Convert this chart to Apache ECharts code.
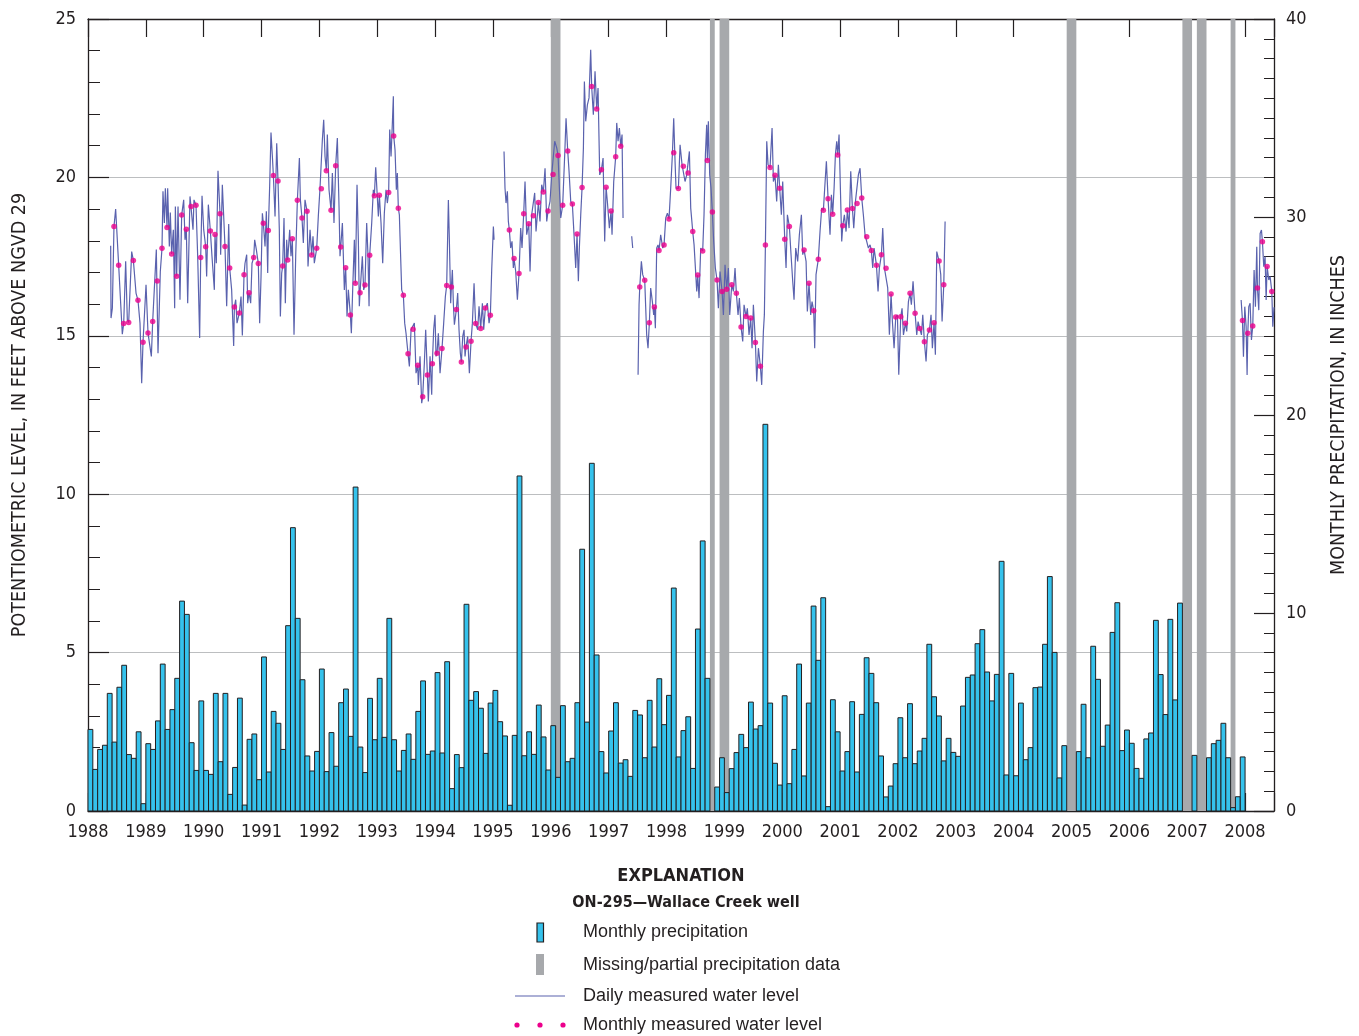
<!DOCTYPE html>
<html>
<head>
<meta charset="utf-8">
<title>ON-295 Wallace Creek well</title>
<script src="https://cdn.jsdelivr.net/npm/echarts@6/dist/echarts.min.js"></script>
<style>
  html, body { margin: 0; padding: 0; background: #fff; }
  #chart { width: 1359px; height: 1036px; }
</style>
</head>
<body>
<div id="chart"></div>
<script>
'use strict';

// monthly precipitation in inches, Jan 1988 .. Dec 2007 (null = no bar drawn)
const precipitation = [
  4.12, 2.10, 3.11, 3.32, 5.94, 3.48, 6.25, 7.36, 2.85, 2.66, 4.00, 0.37,
  3.40, 3.11, 4.55, 7.42, 4.12, 5.12, 6.70, 10.60, 9.93, 3.45, 2.05, 5.56,
  2.05, 1.85, 5.94, 2.49, 5.94, 0.84, 2.20, 5.70, 0.30, 3.62, 3.89, 1.58,
  7.78, 1.97, 5.03, 4.43, 3.11, 9.36, 14.31, 9.73, 6.63, 2.78, 2.02, 3.01,
  7.17, 1.99, 3.96, 2.26, 5.47, 6.16, 3.77, 16.36, 3.23, 1.94, 5.69, 3.60,
  6.70, 3.72, 9.73, 3.60, 2.02, 3.06, 3.89, 2.61, 5.03, 6.57, 2.86, 3.03,
  6.99, 2.93, 7.54, 1.13, 2.85, 2.19, 10.44, 5.59, 6.03, 5.19, 2.91, 5.45,
  6.09, 4.51, 3.79, 0.29, 3.82, 16.92, 2.79, 4.00, 2.86, 5.35, 3.74, 2.07,
  4.31, 1.70, 5.32, 2.49, 2.66, 5.47, 13.22, 4.49, 17.56, 7.88, 3.00, 1.92,
  4.04, 5.47, 2.42, 2.59, 1.75, 5.08, 4.85, 2.69, 5.59, 3.23, 6.68, 4.36,
  5.84, 11.26, 2.73, 4.06, 4.76, 2.15, 9.19, 13.64, 6.70, null, 1.21, 2.69,
  0.93, 2.14, 2.95, 3.87, 3.20, 5.50, 4.14, 4.31, 19.53, 5.45, 2.41, 1.31,
  5.82, 1.38, 3.11, 7.42, 1.77, 5.45, 10.35, 7.61, 10.77, 0.22, 5.62, 4.00,
  2.02, 3.00, 5.52, 1.97, 4.88, 7.74, 6.95, 5.47, 2.78, 0.71, 1.26, 2.39,
  4.71, 2.69, 5.42, 2.39, 3.03, 3.67, 8.42, 5.77, 4.80, 2.53, 3.67, 2.96,
  2.76, 5.30, 6.75, 6.87, 8.45, 9.16, 7.02, 5.56, 6.90, 12.61, 1.82, 6.95,
  1.78, 5.45, 2.59, 3.20, 6.23, 6.26, 8.42, 11.84, 8.01, 1.67, 3.30, null,
  null, 3.00, 5.39, 2.69, 8.32, 6.65, 3.27, 4.34, 9.02, 10.52, 3.05, 4.09,
  3.42, 2.15, 1.65, 3.64, 3.94, 9.63, 6.89, 4.87, 9.68, 5.61, 10.50, null,
  null, 2.81, null, null, 2.69, 3.40, 3.57, 4.43, 2.69, 0.17, 0.72, 2.73
];
const precipStartYear = 1988;

// missing / partial precipitation record: [first month, number of months]
const missingPrecip = [
  ['1996-01', 2], ['1998-10', 1], ['1998-12', 2], ['2004-12', 2],
  ['2006-12', 2], ['2007-03', 2], ['2007-10', 1]
];

// monthly measured water level [decimal year, feet above NGVD 29]
const monthlyLevel = [
  [1988.449, 18.45], [1988.530, 17.23], [1988.617, 15.39], [1988.703, 15.42], [1988.784, 17.38],
  [1988.864, 16.12], [1988.951, 14.80], [1989.037, 15.09], [1989.118, 15.45], [1989.198, 16.73],
  [1989.279, 17.76], [1989.366, 18.42], [1989.446, 17.58], [1989.533, 16.88], [1989.619, 18.81],
  [1989.700, 18.36], [1989.780, 19.08], [1989.867, 19.12], [1989.948, 17.47], [1990.034, 17.81],
  [1990.115, 18.31], [1990.195, 18.20], [1990.282, 18.85], [1990.368, 17.82], [1990.449, 17.14],
  [1990.530, 15.91], [1990.616, 15.72], [1990.697, 16.93], [1990.783, 16.36], [1990.864, 17.47],
  [1990.944, 17.28], [1991.031, 18.55], [1991.117, 18.32], [1991.204, 20.06], [1991.284, 19.89],
  [1991.365, 17.20], [1991.452, 17.39], [1991.532, 18.06], [1991.619, 19.28], [1991.699, 18.72],
  [1991.786, 18.93], [1991.866, 17.55], [1991.953, 17.76], [1992.033, 19.64], [1992.120, 20.21],
  [1992.201, 18.96], [1992.281, 20.37], [1992.368, 17.80], [1992.454, 17.15], [1992.535, 15.66],
  [1992.621, 16.66], [1992.702, 16.36], [1992.788, 16.60], [1992.869, 17.54], [1992.950, 19.42],
  [1993.036, 19.44], [1993.197, 19.52], [1993.284, 21.31], [1993.364, 19.03], [1993.451, 16.28],
  [1993.532, 14.43], [1993.618, 15.21], [1993.699, 14.07], [1993.785, 13.08], [1993.866, 13.76],
  [1993.952, 14.12], [1994.033, 14.45], [1994.119, 14.60], [1994.200, 16.59], [1994.281, 16.54],
  [1994.367, 15.83], [1994.454, 14.17], [1994.534, 14.65], [1994.621, 14.83], [1994.701, 15.39],
  [1994.788, 15.23], [1994.868, 15.88], [1994.955, 15.65],
  [1995.283, 18.34], [1995.364, 17.44], [1995.450, 16.97], [1995.531, 18.85], [1995.618, 18.54],
  [1995.698, 18.79], [1995.785, 19.21], [1995.871, 19.54], [1995.952, 18.94], [1996.038, 20.09],
  [1996.125, 20.69], [1996.205, 19.12], [1996.292, 20.83], [1996.372, 19.16], [1996.453, 18.21],
  [1996.540, 19.68], [1996.706, 22.87], [1996.793, 22.16], [1996.874, 20.24], [1996.955, 19.69],
  [1997.041, 18.94], [1997.121, 20.65], [1997.208, 20.98],
  [1997.537, 16.54], [1997.623, 16.75], [1997.703, 15.41], [1997.790, 15.91], [1997.870, 17.69],
  [1997.957, 17.87], [1998.043, 18.69], [1998.124, 20.78], [1998.205, 19.65], [1998.291, 20.35],
  [1998.372, 20.14], [1998.453, 18.29], [1998.539, 16.92], [1998.625, 17.68], [1998.706, 20.53],
  [1998.792, 18.91], [1998.873, 16.76], [1998.960, 16.40], [1999.040, 16.47], [1999.127, 16.61],
  [1999.207, 16.34], [1999.288, 15.28], [1999.374, 15.61], [1999.455, 15.56], [1999.536, 14.79],
  [1999.622, 14.04], [1999.709, 17.87], [1999.789, 20.31], [1999.875, 20.07], [1999.956, 19.66],
  [2000.043, 18.05], [2000.123, 18.45], [2000.377, 17.71], [2000.463, 16.66], [2000.544, 15.79],
  [2000.624, 17.42], [2000.711, 18.96], [2000.792, 19.33], [2000.872, 18.84], [2000.959, 20.71],
  [2001.046, 18.47], [2001.126, 18.97], [2001.213, 19.02], [2001.293, 19.18], [2001.374, 19.35],
  [2001.460, 18.13], [2001.541, 17.69], [2001.628, 17.23], [2001.714, 17.56], [2001.794, 17.13],
  [2001.881, 16.32], [2001.962, 15.59], [2002.048, 15.60], [2002.129, 15.40], [2002.209, 16.34],
  [2002.296, 15.71], [2002.377, 15.23], [2002.457, 14.81], [2002.544, 15.18], [2002.624, 15.41],
  [2002.711, 17.36], [2002.792, 16.61],
  [2007.955, 15.48], [2008.047, 15.08], [2008.133, 15.31], [2008.214, 16.51], [2008.300, 17.97],
  [2008.381, 17.19], [2008.462, 16.40]
];

// daily measured water level, read as turning points [decimal year, feet]; null marks a gap in record
const dailyLevel = [
  [1988.392, 17.84], [1988.398, 15.56], [1988.421, 15.87], [1988.449, 18.45], [1988.478, 19.00],
  [1988.530, 17.23], [1988.593, 15.05], [1988.617, 15.39], [1988.651, 17.35], [1988.680, 15.50],
  [1988.703, 15.42], [1988.755, 17.66], [1988.784, 17.38], [1988.830, 16.35], [1988.864, 16.12],
  [1988.899, 15.40], [1988.928, 13.50], [1988.951, 14.80], [1989.003, 16.61], [1989.037, 15.09],
  [1989.095, 14.35], [1989.118, 15.45], [1989.181, 17.72], [1989.210, 14.45], [1989.250, 17.03],
  [1989.279, 17.76], [1989.296, 19.56], [1989.320, 18.56], [1989.337, 19.66], [1989.366, 18.42],
  [1989.377, 19.66], [1989.406, 17.82], [1989.423, 18.89], [1989.446, 17.58], [1989.475, 18.35],
  [1989.498, 15.87], [1989.510, 19.08], [1989.533, 16.88], [1989.556, 19.08], [1989.590, 16.14],
  [1989.619, 18.81], [1989.654, 19.29], [1989.677, 18.03], [1989.700, 18.36], [1989.723, 16.03],
  [1989.763, 19.40], [1989.780, 19.08], [1989.815, 18.35], [1989.832, 19.29], [1989.867, 19.12],
  [1989.896, 17.51], [1989.930, 14.93], [1989.948, 17.47], [1989.971, 19.42], [1990.000, 18.35],
  [1990.034, 17.81], [1990.051, 16.87], [1990.080, 19.14], [1990.115, 18.31], [1990.143, 17.51],
  [1990.184, 16.45], [1990.195, 18.20], [1990.218, 17.29], [1990.247, 20.21], [1990.282, 18.85],
  [1990.293, 17.56], [1990.322, 19.77], [1990.368, 17.82], [1990.397, 15.93], [1990.432, 18.53],
  [1990.449, 17.14], [1990.483, 16.45], [1990.518, 14.68], [1990.530, 15.91], [1990.553, 16.14],
  [1990.576, 15.40], [1990.616, 15.72], [1990.645, 16.24], [1990.668, 15.01], [1990.697, 16.93],
  [1990.714, 17.29], [1990.743, 17.56], [1990.760, 16.03], [1990.783, 16.36], [1990.812, 16.03],
  [1990.835, 17.29], [1990.864, 17.47], [1990.881, 18.03], [1990.910, 17.72], [1990.944, 17.28],
  [1990.967, 15.40], [1990.991, 16.87], [1991.014, 18.87], [1991.031, 18.55], [1991.060, 17.82],
  [1991.083, 18.93], [1991.106, 16.98], [1991.117, 18.32], [1991.140, 19.72], [1991.163, 21.42],
  [1991.187, 20.66], [1991.204, 20.06], [1991.233, 18.77], [1991.262, 21.08], [1991.284, 19.89],
  [1991.307, 18.35], [1991.325, 15.61], [1991.348, 16.98], [1991.365, 17.20], [1991.388, 18.72],
  [1991.411, 16.03], [1991.434, 18.03], [1991.452, 17.39], [1991.486, 18.35], [1991.509, 17.51],
  [1991.532, 18.06], [1991.561, 15.03], [1991.590, 17.51], [1991.619, 19.28], [1991.654, 20.61],
  [1991.671, 19.29], [1991.699, 18.72], [1991.722, 17.93], [1991.751, 19.29], [1991.786, 18.93],
  [1991.803, 17.19], [1991.838, 18.35], [1991.866, 17.55], [1991.889, 18.14], [1991.912, 17.29],
  [1991.953, 17.76], [1991.981, 18.77], [1992.010, 19.66], [1992.033, 19.64], [1992.051, 21.19],
  [1992.074, 21.82], [1992.097, 20.66], [1992.120, 20.21], [1992.137, 21.35], [1992.166, 19.61],
  [1992.201, 18.96], [1992.224, 20.14], [1992.252, 18.56], [1992.281, 20.37], [1992.310, 21.24],
  [1992.339, 19.08], [1992.356, 17.51], [1992.368, 17.80], [1992.397, 18.56], [1992.431, 16.45],
  [1992.454, 17.15], [1992.477, 15.61], [1992.500, 16.45], [1992.535, 15.66], [1992.552, 15.08],
  [1992.575, 16.45], [1992.604, 18.03], [1992.621, 16.66], [1992.650, 19.77], [1992.673, 18.03],
  [1992.690, 15.93], [1992.702, 16.36], [1992.742, 17.51], [1992.765, 16.45], [1992.788, 16.60],
  [1992.817, 18.56], [1992.840, 17.51], [1992.858, 15.93], [1992.869, 17.54], [1992.904, 18.56],
  [1992.932, 19.61], [1992.950, 19.42], [1992.973, 20.32], [1992.990, 20.29], [1993.019, 18.77],
  [1993.036, 19.44], [1993.065, 18.56], [1993.094, 17.29], [1993.122, 18.87], [1993.151, 19.61],
  [1993.174, 19.19], [1993.197, 19.52], [1993.215, 21.51], [1993.238, 20.66], [1993.261, 21.72],
  [1993.278, 22.56], [1993.284, 21.31], [1993.307, 20.87], [1993.330, 19.61], [1993.347, 20.14],
  [1993.364, 19.03], [1993.382, 18.82], [1993.393, 18.14], [1993.422, 16.45], [1993.451, 16.28],
  [1993.474, 15.40], [1993.497, 15.08], [1993.532, 14.43], [1993.555, 14.03], [1993.584, 15.19],
  [1993.618, 15.21], [1993.641, 15.40], [1993.670, 13.82], [1993.699, 14.07], [1993.710, 13.45],
  [1993.739, 14.35], [1993.768, 12.87], [1993.785, 13.08], [1993.814, 14.14], [1993.837, 15.19],
  [1993.866, 13.76], [1993.883, 12.93], [1993.912, 14.35], [1993.941, 13.14], [1993.952, 14.12],
  [1993.975, 15.19], [1993.998, 15.66], [1994.016, 14.35], [1994.033, 14.45], [1994.056, 15.08],
  [1994.085, 13.82], [1994.119, 14.60], [1994.148, 15.40], [1994.177, 16.24], [1994.200, 16.59],
  [1994.229, 19.29], [1994.246, 18.03], [1994.269, 16.03], [1994.281, 16.54], [1994.298, 17.08],
  [1994.315, 16.03], [1994.333, 15.35], [1994.367, 15.83], [1994.390, 16.35], [1994.413, 15.19],
  [1994.436, 14.45], [1994.454, 14.17], [1994.477, 14.98], [1994.500, 15.19], [1994.517, 14.35],
  [1994.534, 14.65], [1994.563, 14.98], [1994.592, 13.82], [1994.621, 14.83], [1994.644, 15.40],
  [1994.673, 16.66], [1994.690, 15.82], [1994.701, 15.39], [1994.736, 15.19], [1994.759, 15.93],
  [1994.788, 15.23], [1994.817, 16.03], [1994.840, 15.19], [1994.868, 15.88], [1994.903, 16.03],
  [1994.932, 15.40], [1994.955, 15.65], [1994.978, 17.08], [1995.007, 18.45], [1995.019, 18.03],
  null,
  [1995.191, 20.82], [1995.208, 19.66], [1995.226, 19.19], [1995.249, 19.56], [1995.266, 18.61],
  [1995.283, 18.34], [1995.306, 17.77], [1995.329, 17.98], [1995.352, 17.14], [1995.364, 17.44],
  [1995.393, 17.03], [1995.422, 16.14], [1995.450, 16.97], [1995.479, 18.40], [1995.502, 17.77],
  [1995.531, 18.85], [1995.554, 19.87], [1995.583, 18.19], [1995.618, 18.54], [1995.641, 17.03],
  [1995.669, 18.82], [1995.698, 18.79], [1995.721, 19.51], [1995.744, 18.29], [1995.785, 19.21],
  [1995.813, 18.61], [1995.842, 19.77], [1995.871, 19.54], [1995.900, 20.29], [1995.929, 18.61],
  [1995.952, 18.94], [1995.986, 19.24], [1996.015, 20.08], [1996.038, 20.09], [1996.067, 21.14],
  [1996.102, 20.93], [1996.125, 20.69], [1996.148, 19.66], [1996.171, 18.72], [1996.205, 19.12],
  [1996.240, 20.72], [1996.263, 21.87], [1996.292, 20.83], [1996.315, 20.19], [1996.344, 19.24],
  [1996.372, 19.16], [1996.401, 18.19], [1996.430, 17.14], [1996.453, 18.21], [1996.476, 16.72],
  [1996.493, 17.77], [1996.517, 18.82], [1996.540, 19.68], [1996.563, 20.93], [1996.580, 23.03],
  [1996.603, 21.77], [1996.632, 22.29], [1996.660, 22.51], [1996.689, 24.03], [1996.706, 22.87],
  [1996.735, 21.98], [1996.764, 23.35], [1996.793, 22.16], [1996.816, 22.82], [1996.845, 20.08],
  [1996.874, 20.24], [1996.903, 20.61], [1996.931, 17.98], [1996.955, 19.69], [1996.977, 19.24],
  [1997.012, 18.40], [1997.041, 18.94], [1997.058, 18.19], [1997.087, 19.87], [1997.121, 20.65],
  [1997.139, 21.72], [1997.162, 21.14], [1997.185, 21.56], [1997.208, 20.98], [1997.231, 21.35],
  [1997.248, 18.72],
  null,
  [1997.398, 18.14], [1997.415, 17.77],
  null,
  [1997.508, 13.77], [1997.525, 15.98], [1997.537, 16.54], [1997.565, 17.35], [1997.588, 16.93],
  [1997.623, 16.75], [1997.657, 15.03], [1997.680, 14.61], [1997.703, 15.41], [1997.726, 16.51],
  [1997.755, 16.08], [1997.778, 15.66], [1997.790, 15.91], [1997.807, 15.24], [1997.830, 17.77],
  [1997.853, 17.87], [1997.870, 17.69], [1997.899, 18.19], [1997.934, 17.77], [1997.957, 17.87],
  [1997.986, 18.72], [1998.015, 18.87], [1998.043, 18.69], [1998.072, 19.66], [1998.101, 20.72],
  [1998.124, 21.87], [1998.147, 20.51], [1998.164, 19.66], [1998.205, 19.65], [1998.234, 21.03],
  [1998.268, 20.40], [1998.291, 20.35], [1998.320, 19.87], [1998.349, 20.08], [1998.372, 20.14],
  [1998.395, 20.82], [1998.418, 19.03], [1998.453, 18.29], [1998.476, 17.87], [1998.499, 17.14],
  [1998.522, 16.40], [1998.539, 16.92], [1998.562, 16.19], [1998.591, 17.77], [1998.625, 17.68],
  [1998.648, 18.82], [1998.672, 20.72], [1998.694, 21.66], [1998.706, 20.53], [1998.723, 21.77],
  [1998.746, 20.08], [1998.769, 19.66], [1998.792, 18.91], [1998.815, 17.98], [1998.844, 17.14],
  [1998.873, 16.76], [1998.896, 15.87], [1998.925, 17.03], [1998.960, 16.40], [1998.983, 15.66],
  [1999.011, 17.24], [1999.040, 16.47], [1999.069, 17.14], [1999.092, 15.66], [1999.127, 16.61],
  [1999.156, 16.40], [1999.184, 17.14], [1999.207, 16.34], [1999.236, 15.66], [1999.259, 16.19],
  [1999.288, 15.28], [1999.317, 14.82], [1999.340, 15.98], [1999.374, 15.61], [1999.397, 15.87],
  [1999.426, 15.03], [1999.455, 15.56], [1999.478, 14.61], [1999.501, 15.98], [1999.536, 14.79],
  [1999.559, 13.56], [1999.588, 14.61], [1999.622, 14.04], [1999.645, 13.45], [1999.674, 15.14],
  [1999.691, 15.66], [1999.709, 17.87], [1999.732, 21.14], [1999.755, 20.40], [1999.789, 20.31],
  [1999.824, 21.56], [1999.847, 19.87], [1999.875, 20.07], [1999.904, 19.24], [1999.933, 20.40],
  [1999.956, 19.66], [1999.985, 18.82], [2000.008, 19.87], [2000.043, 18.05], [2000.066, 17.14],
  [2000.089, 18.82], [2000.123, 18.45], [2000.152, 17.56], [2000.181, 16.72], [2000.204, 16.14],
  [2000.233, 17.77], [2000.267, 17.35], [2000.296, 18.19], [2000.331, 18.82], [2000.354, 17.56],
  [2000.377, 17.71], [2000.412, 17.35], [2000.434, 15.77], [2000.463, 16.66], [2000.492, 15.66],
  [2000.515, 16.08], [2000.544, 15.79], [2000.561, 14.61], [2000.584, 16.93], [2000.624, 17.42],
  [2000.653, 18.29], [2000.682, 19.03], [2000.711, 18.96], [2000.734, 19.66], [2000.763, 20.51],
  [2000.792, 19.33], [2000.826, 18.19], [2000.850, 19.45], [2000.872, 18.84], [2000.896, 19.66],
  [2000.919, 20.72], [2000.942, 21.14], [2000.959, 20.71], [2000.982, 21.35], [2001.005, 19.66],
  [2001.028, 17.98], [2001.046, 18.47], [2001.074, 18.82], [2001.103, 18.29], [2001.126, 18.97],
  [2001.155, 18.40], [2001.184, 20.19], [2001.213, 19.02], [2001.236, 18.40], [2001.265, 19.24],
  [2001.293, 19.18], [2001.316, 20.08], [2001.345, 20.29], [2001.374, 19.35], [2001.402, 18.82],
  [2001.431, 18.19], [2001.460, 18.13], [2001.489, 17.77], [2001.518, 17.87], [2001.541, 17.69],
  [2001.564, 17.14], [2001.587, 17.77], [2001.628, 17.23], [2001.656, 16.40], [2001.679, 17.14],
  [2001.714, 17.56], [2001.737, 18.40], [2001.766, 17.14], [2001.794, 17.13], [2001.823, 16.51],
  [2001.852, 15.03], [2001.881, 16.32], [2001.904, 15.45], [2001.933, 14.61], [2001.962, 15.59],
  [2001.991, 15.66], [2002.014, 13.77], [2002.048, 15.60], [2002.071, 15.87], [2002.095, 15.03],
  [2002.129, 15.40], [2002.152, 15.14], [2002.181, 16.08], [2002.209, 16.34], [2002.232, 15.98],
  [2002.261, 16.72], [2002.296, 15.71], [2002.325, 15.03], [2002.348, 15.45], [2002.377, 15.23],
  [2002.406, 15.03], [2002.429, 15.66], [2002.457, 14.81], [2002.486, 14.19], [2002.509, 15.03],
  [2002.544, 15.18], [2002.572, 15.66], [2002.595, 14.61], [2002.624, 15.41], [2002.647, 14.40],
  [2002.671, 17.66], [2002.711, 17.36], [2002.740, 16.93], [2002.763, 15.45], [2002.792, 16.61],
  [2002.815, 18.61],
  null,
  [2007.932, 16.13], [2007.955, 15.48], [2007.972, 14.34], [2007.995, 15.92], [2008.018, 15.29],
  [2008.035, 13.76], [2008.047, 15.08], [2008.064, 15.92], [2008.087, 16.03], [2008.110, 14.87],
  [2008.133, 15.31], [2008.156, 17.08], [2008.179, 15.92], [2008.202, 17.81], [2008.214, 16.51],
  [2008.237, 15.81], [2008.260, 18.23], [2008.283, 18.34], [2008.300, 17.97], [2008.323, 17.18],
  [2008.346, 17.50], [2008.364, 16.13], [2008.381, 17.19], [2008.410, 16.76], [2008.433, 16.87],
  [2008.462, 16.40], [2008.479, 15.29], [2008.500, 15.90]
];

const axisFont = '"Liberation Sans Narrow", "DejaVu Sans Condensed", sans-serif';
const textFont = '"Liberation Sans", "DejaVu Sans", sans-serif';
const ink = '#231f20';

const precipData = [];
precipitation.forEach((v, i) => {
  if (v !== null) precipData.push([precipStartYear + i / 12, v]);
});

const missingData = missingPrecip.map(([ym, n]) => {
  const [y, m] = ym.split('-').map(Number);
  return [y + (m - 1) / 12, n];
});

const dailyData = dailyLevel.map(p => (p === null ? ['-', '-'] : p));

function renderMonthBar(params, api) {
  const start = api.value(0);
  const top = api.coord([start, api.value(1)]);
  const base = api.coord([start + 1 / 12, 0]);
  return {
    type: 'rect',
    shape: { x: top[0], y: top[1], width: base[0] - top[0], height: base[1] - top[1] },
    style: { fill: '#35c2ec', stroke: ink, lineWidth: 1 }
  };
}

function renderMissing(params, api) {
  const start = api.value(0);
  const top = api.coord([start, 40]);
  const base = api.coord([start + api.value(1) / 12, 0]);
  return {
    type: 'rect',
    shape: { x: top[0], y: top[1], width: base[0] - top[0], height: base[1] - top[1] },
    style: { fill: '#a7a9ac' }
  };
}

const yearAxis = {
  type: 'value',
  min: 1988,
  max: 2008.5,
  interval: 1,
  axisLine: { onZero: false, lineStyle: { color: ink, width: 1.3 } },
  axisTick: { inside: true, length: 18, lineStyle: { color: ink, width: 1.2 } },
  splitLine: { show: false }
};

const chart = echarts.init(document.getElementById('chart'), null, { renderer: 'canvas' });

chart.setOption({
  animation: false,
  backgroundColor: '#fff',
  grid: { left: 88, right: 85, top: 19, bottom: 225 },
  xAxis: [
    Object.assign({}, yearAxis, {
      position: 'bottom',
      axisLabel: {
        color: ink, fontFamily: axisFont, fontSize: 18, margin: 12,
        formatter: v => (v % 1 === 0 ? String(v) : '')
      }
    }),
    Object.assign({}, yearAxis, { position: 'top', axisLabel: { show: false } })
  ],
  yAxis: [
    {
      type: 'value', min: 0, max: 25, interval: 5, position: 'left',
      name: 'POTENTIOMETRIC LEVEL, IN FEET ABOVE NGVD 29',
      nameLocation: 'middle', nameRotate: 90, nameGap: 58,
      nameTextStyle: { color: ink, fontFamily: axisFont, fontSize: 19.5 },
      axisLine: { show: true, onZero: false, lineStyle: { color: ink, width: 1.3 } },
      axisTick: { inside: true, length: 21, lineStyle: { color: ink, width: 1.2 } },
      minorTick: { show: true, splitNumber: 5, length: 12, lineStyle: { color: ink, width: 1 } },
      axisLabel: { color: ink, fontFamily: axisFont, fontSize: 18, margin: 12 },
      splitLine: { show: true, lineStyle: { color: '#bcbec0', width: 1.2 } }
    },
    {
      type: 'value', min: 0, max: 40, interval: 10, position: 'right',
      name: 'MONTHLY PRECIPITATION, IN INCHES',
      nameLocation: 'middle', nameRotate: 90, nameGap: 55,
      nameTextStyle: { color: ink, fontFamily: axisFont, fontSize: 19.5 },
      axisLine: { show: true, onZero: false, lineStyle: { color: ink, width: 1.3 } },
      axisTick: { inside: true, length: 20, lineStyle: { color: ink, width: 1.2 } },
      minorTick: { show: true, splitNumber: 10, length: 10, lineStyle: { color: ink, width: 1 } },
      axisLabel: { color: ink, fontFamily: axisFont, fontSize: 18, margin: 12 },
      splitLine: { show: false }
    }
  ],
  series: [
    {
      name: 'Missing/partial precipitation data',
      type: 'custom', xAxisIndex: 0, yAxisIndex: 1, z: 1,
      renderItem: renderMissing, encode: { x: 0 }, data: missingData, silent: true
    },
    {
      name: 'Monthly precipitation',
      type: 'custom', xAxisIndex: 0, yAxisIndex: 1, z: 2,
      renderItem: renderMonthBar, encode: { x: 0, y: 1 }, data: precipData, silent: true
    },
    {
      name: 'Daily measured water level',
      type: 'line', xAxisIndex: 0, yAxisIndex: 0, z: 3,
      data: dailyData, showSymbol: false, connectNulls: false,
      lineStyle: { color: '#5a62ae', width: 1.2 }, silent: true
    },
    {
      name: 'Monthly measured water level',
      type: 'scatter', xAxisIndex: 0, yAxisIndex: 0, z: 4,
      data: monthlyLevel, symbolSize: 5.5,
      itemStyle: { color: '#ec008c' }, silent: true
    }
  ],
  graphic: [
    { type: 'text', x: 681, y: 876, style: { text: 'EXPLANATION', font: 'bold 18px ' + axisFont, fill: ink, align: 'center', verticalAlign: 'middle' } },
    { type: 'text', x: 686, y: 903, style: { text: 'ON-295\u2014Wallace Creek well', font: 'bold 16px ' + axisFont, fill: ink, align: 'center', verticalAlign: 'middle' } },
    { type: 'rect', shape: { x: 537, y: 923, width: 6.5, height: 19 }, style: { fill: '#35c2ec', stroke: ink, lineWidth: 1.2 } },
    { type: 'text', x: 583, y: 932, style: { text: 'Monthly precipitation', font: '18px ' + textFont, fill: ink, verticalAlign: 'middle' } },
    { type: 'rect', shape: { x: 536, y: 954, width: 8, height: 21 }, style: { fill: '#a7a9ac' } },
    { type: 'text', x: 583, y: 965, style: { text: 'Missing/partial precipitation data', font: '18px ' + textFont, fill: ink, verticalAlign: 'middle' } },
    { type: 'line', shape: { x1: 515, y1: 996, x2: 565, y2: 996 }, style: { stroke: '#5a62ae', lineWidth: 1.2 } },
    { type: 'text', x: 583, y: 996, style: { text: 'Daily measured water level', font: '18px ' + textFont, fill: ink, verticalAlign: 'middle' } },
    { type: 'circle', shape: { cx: 517, cy: 1025, r: 2.6 }, style: { fill: '#ec008c' } },
    { type: 'circle', shape: { cx: 540, cy: 1025, r: 2.6 }, style: { fill: '#ec008c' } },
    { type: 'circle', shape: { cx: 563, cy: 1025, r: 2.6 }, style: { fill: '#ec008c' } },
    { type: 'text', x: 583, y: 1025, style: { text: 'Monthly measured water level', font: '18px ' + textFont, fill: ink, verticalAlign: 'middle' } }
  ]
});
</script>
</body>
</html>
